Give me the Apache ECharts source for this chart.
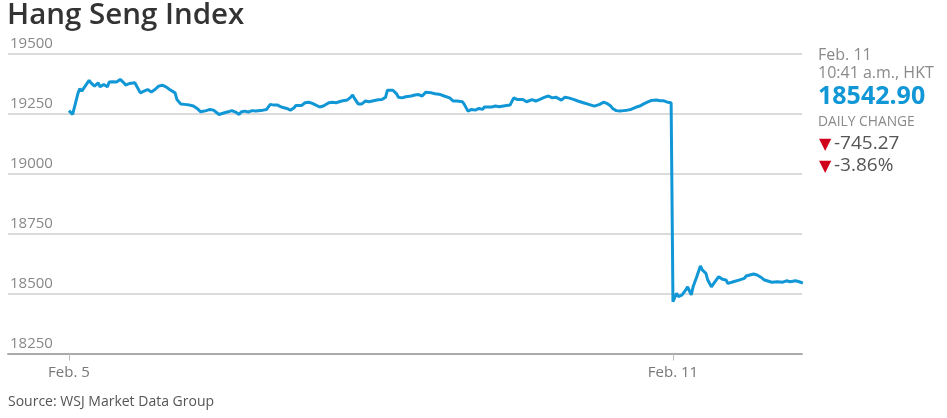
<!DOCTYPE html>
<html>
<head>
<meta charset="utf-8">
<script src="https://cdn.jsdelivr.net/npm/echarts@6/dist/echarts.min.js"></script>
<style>
html,body{margin:0;padding:0;background:#fff;}
#chart{width:947px;height:418px;}
</style>
</head>
<body>
<div id="chart"></div>
<script>
// Trading minutes since the 09:30 open (lunch break removed) and index level
const feb5Minutes = [0,1,2,3,5,6,7,8,11,12,14,16,17,19,21,22,24,26,28,30,31,33,34,36,37,39,41,43,45,47,49,51,53,55,58,59,61,63,64,66,68,70,72,73,75,77,79,80,82,83,85,87,89,91,93,94,96,98,100,102,103,106,108,110,112,114,116,119,121,123,124,127,129,131,133,134,137,139,142,144,146,149,152,154,155,156,158,160,162,164,165,167,169,171,173,174,175,177,179,180,182,184,185,187,189,191,193,195,196,198,200,203,205,206,208,210,212,215,216,218,220,222,224,226,227,229,231,233,235,236,239,241,243,245,246,248,250,251,253,255,257,260,262,264,266,267,269,271,273,276,278,281,284,287,288,290,292,294,296,297,299,301,303,305,307,308,310,312,314,316,318,319,321,323,325,327,328,329];
const feb5Values = [19262,19267,19246,19253,19336,19354,19343,19350,19388,19378,19364,19378,19361,19371,19361,19381,19382,19381,19392,19378,19368,19375,19368,19378,19371,19336,19343,19350,19340,19350,19364,19368,19361,19350,19336,19308,19290,19288,19290,19285,19281,19271,19257,19250,19262,19267,19264,19271,19246,19239,19253,19257,19262,19256,19246,19256,19260,19256,19262,19260,19264,19264,19267,19288,19285,19285,19277,19271,19264,19274,19283,19283,19295,19297,19292,19295,19277,19281,19295,19297,19295,19302,19306,19318,19327,19313,19290,19290,19302,19299,19302,19304,19307,19308,19318,19347,19350,19347,19332,19318,19315,19320,19327,19323,19327,19329,19323,19339,19339,19336,19332,19329,19323,19327,19315,19302,19302,19299,19288,19260,19267,19264,19271,19267,19277,19277,19277,19281,19278,19283,19283,19285,19315,19308,19304,19308,19299,19306,19308,19302,19308,19318,19323,19315,19318,19323,19306,19318,19315,19308,19302,19295,19288,19281,19277,19288,19297,19292,19281,19271,19262,19260,19262,19264,19267,19270,19277,19281,19290,19297,19304,19308,19306,19303,19303,19297,19302,19295,19288.17];
const feb11Minutes = [0,1,2,3,5,6,7,8,10,11,13,15,16,18,19,21,23,25,27,29,30,33,36,39,40,42,44,46,48,50,51,54,57,60,62,64,67,69,70,71];
const feb11Values = [18466,18469,18501,18487,18494,18501,18515,18528,18494,18528,18570,18615,18598,18584,18556,18528,18549,18570,18559,18556,18542,18549,18556,18563,18573,18577,18581,18577,18568,18556,18549,18547,18549,18547,18553,18549,18553,18549,18545,18542.90];
const sessionOffsets = [0, 330];           // Feb. 11 opens after Feb. 5's 330 trading minutes
const xTickLabels = ['Feb. 5', 'Feb. 11'];
const yTicks = [18250, 18500, 18750, 19000, 19250, 19500];
const panelDate = 'Feb. 11';
const panelTime = '10:41 a.m., HKT';
const lastValue = '18542.90';
const changePoints = '-745.27';
const changePct = '-3.86%';

const lineData = [];
feb5Minutes.forEach((m, i) => lineData.push([sessionOffsets[0] + m, feb5Values[i]]));
feb11Minutes.forEach((m, i) => lineData.push([sessionOffsets[1] + m, feb11Values[i]]));

const font = '"Open Sans", "Noto Sans", sans-serif';
const chart = echarts.init(document.getElementById('chart'), null, {renderer: 'canvas'});
chart.setOption({
  animation: false,
  backgroundColor: '#fff',
  grid: {left: 8, right: 145, top: 53.5, height: 300, containLabel: false},
  xAxis: {
    type: 'value',
    min: -33.3,
    max: 400.5,
    splitLine: {show: false},
    axisLine: {show: true, lineStyle: {color: '#aaa', width: 2}},
    axisTick: {show: true, customValues: sessionOffsets, length: 7, lineStyle: {color: '#bbb', width: 1}},
    axisLabel: {
      show: true, customValues: sessionOffsets, margin: 12,
      fontFamily: font, fontSize: 15, color: '#777',
      formatter: v => xTickLabels[sessionOffsets.indexOf(v)]
    }
  },
  yAxis: {
    type: 'value',
    min: yTicks[0],
    max: yTicks[yTicks.length - 1],
    interval: 250,
    axisLine: {show: false},
    axisTick: {show: false},
    splitLine: {show: true, lineStyle: {color: '#cfcfcf', width: 1.5}},
    axisLabel: {
      inside: true, margin: 2, verticalAlign: 'bottom', padding: [0, 0, 2, 0],
      fontFamily: font, fontSize: 15, color: '#888',
      formatter: v => String(v)
    }
  },
  series: [{
    type: 'line',
    data: lineData,
    showSymbol: false,
    lineStyle: {color: '#1197d6', width: 3},
    itemStyle: {color: '#1197d6'},
    z: 5
  }],
  graphic: [
    {type: 'text', left: 7, top: 1, style: {text: 'Hang Seng Index', font: '600 29.5px ' + font, fill: '#333'}},
    {type: 'text', x: 8, y: 402, style: {text: 'Source: WSJ Market Data Group', font: '14px ' + font, fill: '#555', verticalAlign: 'middle'}},
    {type: 'text', x: 818, y: 55, style: {text: panelDate, font: '16px ' + font, fill: '#8a8a8a', verticalAlign: 'middle'}},
    {type: 'text', x: 818, y: 73.5, style: {text: panelTime, font: '16px ' + font, fill: '#8a8a8a', verticalAlign: 'middle'}},
    {type: 'text', x: 818, y: 97, style: {text: lastValue, font: 'bold 25px ' + font, fill: '#1197d6', verticalAlign: 'middle'}},
    {type: 'text', x: 818, y: 122, style: {text: 'DAILY CHANGE', font: '13.8px ' + font, fill: '#8a8a8a', verticalAlign: 'middle'}},
    {type: 'text', x: 819, y: 145, style: {text: '▼', font: '16px "DejaVu Sans", sans-serif', fill: '#d0021b', verticalAlign: 'middle'}},
    {type: 'text', x: 834, y: 144, style: {text: changePoints, font: '19px ' + font, fill: '#555', verticalAlign: 'middle'}},
    {type: 'text', x: 819, y: 167, style: {text: '▼', font: '16px "DejaVu Sans", sans-serif', fill: '#d0021b', verticalAlign: 'middle'}},
    {type: 'text', x: 834, y: 166, style: {text: changePct, font: '19px ' + font, fill: '#555', verticalAlign: 'middle'}}
  ]
});
</script>
</body>
</html>
